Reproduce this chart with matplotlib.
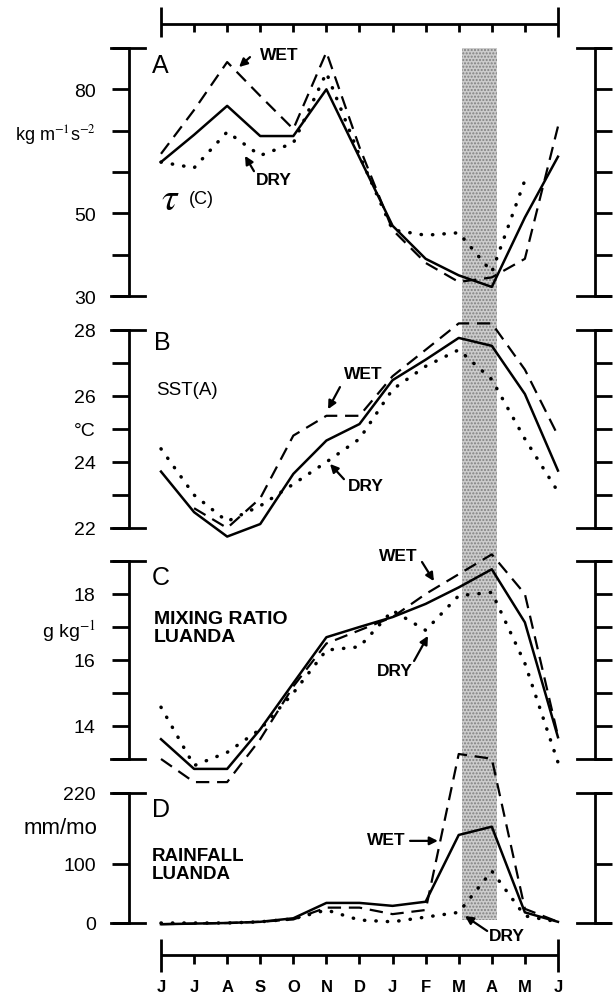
import numpy as np
import matplotlib.pyplot as plt
from matplotlib.transforms import blended_transform_factory

plt.rcParams['font.family'] = ['Liberation Sans', 'DejaVu Sans']
plt.rcParams['mathtext.fontset'] = 'stix'

months = ['J', 'J', 'A', 'S', 'O', 'N', 'D', 'J', 'F', 'M', 'A', 'M', 'J']

# A: wind stress
tau_mean = [62.4, 69, 76, 68.7, 68.7, 80, 63.5, 47, 39, 35, 32.2, 49, 63.7]
tau_wet = [64.4, 75, 86.6, 78.4, 70.4, 89, 66, 46, 38, 33.4, 34.5, 39, 71]
tau_dry = [62.4, 61, 69.7, 64, 67, 84, 64, 46, 44.7, 45.3, 35.8, 58, np.nan]

# B: SST
sst_mean = [23.71, 22.48, 21.74, 22.12, 23.64, 24.65, 25.15, 26.48, 27.1, 27.76, 27.52, 26.06, 23.74]
sst_wet = [np.nan, 22.6, 22.0, 22.9, 24.8, 25.4, 25.4, 26.6, 27.4, 28.2, 28.2, 26.8, 24.8]
sst_dry = [24.4, 23.0, 22.2, 22.67, 23.33, 24.0, 24.7, 26.2, 26.9, 27.4, 26.5, 24.7, 23.1]

# C: mixing ratio Luanda
mix_mean = [13.6, 12.7, 12.7, 13.9, 15.3, 16.69, 17.0, 17.3, 17.7, 18.2, 18.75, 17.14, 13.66]
mix_wet = [13.0, 12.3, 12.3, 13.6, 15.2, 16.5, 16.9, 17.3, 18.0, 18.6, 19.2, 18.0, 13.7]
mix_dry = [14.57, 12.8, 13.2, 13.9, 15.0, 16.3, 16.4, 17.5, 16.9, 17.95, 18.05, 15.9, 12.9]

# D: rainfall Luanda
rain_mean = [-2, -1, 0, 2, 8, 34, 34, 29, 36, 149, 163, 18, 2]
rain_wet = [-2, -1, 0, 2, 6, 26, 26, 15, 22, 286, 278, 24, 2]
rain_dry = [0, 0, 0, 2, 7, 22, 5, 2, 10, 18, 88, 12, 2]

x = np.arange(len(months))

W, H = 613, 995
fig = plt.figure(figsize=(W / 100, H / 100), dpi=100)

x0_px, dx_px = 161, 33.08  # pixel of first month, pixels per month


def px_box(left, top, right, bottom):
    return [left / W, 1 - bottom / H, (right - left) / W, (bottom - top) / H]


def month_lim(left, right):
    return ((left - x0_px) / dx_px, (right - x0_px) / dx_px)


# background axes in month / pixel units for the band and the time bars
bg = fig.add_axes([0, 0, 1, 1])
bg.set_xlim(month_lim(0, W))
bg.set_ylim(H, 0)
bg.axis('off')
bg.fill_between([9.1, 10.15], 49, 921, facecolor='#cccccc', edgecolor='#808080',
                hatch='.....', linewidth=0, zorder=0)

bg.hlines(25, 0, 12, color='k', lw=2)
bg.vlines(x[1:-1], 25, 33, color='k', lw=2)
bg.vlines([0, 12], 8, 38, color='k', lw=2)
bg.hlines(956, 0, 12, color='k', lw=2)
bg.vlines(x[1:-1], 956, 965, color='k', lw=2)
bg.vlines([0, 12], 940, 973, color='k', lw=2)
for i, m in enumerate(months):
    bg.text(i, 988, m, ha='center', va='center', fontsize=12, fontweight='bold')

panels = [
    (49, 297, (30, 90), [30, 40, 50, 60, 70, 80, 90],
     ['30', '', '50', '', 'kg m$^{-1}$s$^{-2}$', '80', ''], tau_mean, tau_wet, tau_dry),
    (331, 529, (22, 28), [22, 23, 24, 25, 26, 27, 28],
     ['22', '', '24', '°C', '26', '', '28'], sst_mean, sst_wet, sst_dry),
    (562, 760, (13, 19), [13, 14, 15, 16, 17, 18, 19],
     ['', '14', '', '16', 'g kg$^{-1}$', '18', ''], mix_mean, mix_wet, mix_dry),
    (794, 924, (0, 220), [0, 100, 220],
     ['0', '100', '220'], rain_mean, rain_wet, rain_dry),
]

axes = []
span = 595 - 129
for top, bottom, ylim, ticks, labels, mean, wet, dry in panels:
    ax = fig.add_axes(px_box(129, top, 595, bottom))
    ax.set_xlim(month_lim(129, 595))
    ax.set_ylim(*ylim)
    ax.patch.set_visible(False)
    ax.spines['top'].set_visible(False)
    ax.spines['bottom'].set_visible(False)
    ax.spines['left'].set_linewidth(2)
    ax.spines['right'].set_linewidth(2)
    ax.set_xticks([])
    ax.set_yticks(ticks, labels)
    ax.tick_params(axis='y', direction='out', length=12, width=2, left=True, right=True,
                   labelsize=14, pad=12)
    tr = blended_transform_factory(ax.transAxes, ax.transData)
    for yv in ylim:
        ax.plot([-18 / span, 16 / span], [yv, yv], transform=tr, color='k', lw=2, clip_on=False)
        ax.plot([1 - 18 / span, 1 + 15 / span], [yv, yv], transform=tr, color='k', lw=2,
                clip_on=False)
    ax.plot(x, mean, color='k', lw=1.8, clip_on=False)
    ax.plot(x, wet, color='k', lw=1.6, ls=(0, (6, 3.5)), clip_on=False)
    ax.plot(x, dry, color='k', lw=2.5, ls=(0, (0.1, 3.2)), dash_capstyle='round', clip_on=False)
    axes.append(ax)

arrow = dict(arrowstyle='-|>', color='k', lw=1.6, mutation_scale=12, shrinkA=0, shrinkB=0)
lab = dict(fontsize=12.5, fontweight='bold', va='center', ha='left')
big = dict(fontsize=18, va='center', ha='left')


def tag(ax, text, xy_text, xy_tail, xy_head):
    ax.text(*xy_text, text, **lab)
    ax.annotate('', xy=xy_head, xytext=xy_tail, arrowprops=arrow)


axA, axB, axC, axD = axes
axA.get_yticklabels()[4].set_fontsize(13)

axA.text(-0.27, 85.9, 'A', **big)
tag(axA, 'WET', (2.99, 88.5), (2.69, 87.8), (2.36, 85.4))
tag(axA, 'DRY', (2.87, 58.3), (2.81, 60.2), (2.54, 63.9))
axA.text(0.0, 53.5, r'$\tau$', fontsize=28, va='center', ha='left')
axA.text(0.85, 53.5, '(C)', fontsize=13, va='center', ha='left')

axB.text(-0.21, 27.64, 'B', **big)
axB.text(-0.15, 26.2, 'SST(A)', fontsize=13.5, va='center', ha='left')
tag(axB, 'WET', (5.53, 26.67), (5.41, 26.27), (5.05, 25.6))
tag(axB, 'DRY', (5.65, 23.3), (5.53, 23.48), (5.11, 23.94))

axC.text(-0.27, 18.5, 'C', **big)
axC.text(-0.21, 17.5, 'MIXING RATIO\nLUANDA', fontsize=14, fontweight='bold',
         va='top', ha='left', linespacing=1.05)
tag(axC, 'WET', (6.59, 19.18), (7.89, 18.97), (8.25, 18.39))
tag(axC, 'DRY', (6.53, 15.67), (7.65, 15.97), (8.07, 16.73))

axD.text(-0.27, 193, 'D', **big)
axD.text(-1.93, 161, 'mm/mo', fontsize=16, va='center', ha='right')
axD.text(-0.27, 128.6, 'RAINFALL\nLUANDA', fontsize=13.5, fontweight='bold',
         va='top', ha='left', linespacing=1.1)
tag(axD, 'WET', (6.23, 142), (7.53, 139), (8.37, 139))
tag(axD, 'DRY', (9.92, -22), (9.86, -13.5), (9.19, 11.8))

fig.savefig('out.png', dpi=100)
